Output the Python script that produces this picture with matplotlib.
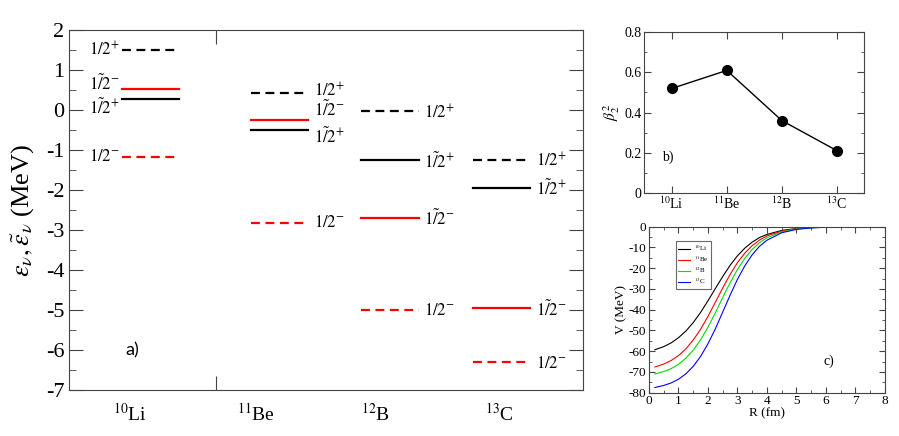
import numpy as np
import matplotlib
matplotlib.use('Agg')
import matplotlib.pyplot as plt
from matplotlib.ticker import MultipleLocator

plt.rcParams['font.family'] = 'serif'
plt.rcParams['font.serif'] = ['Liberation Serif', 'Times New Roman', 'DejaVu Serif']
plt.rcParams['mathtext.fontset'] = 'stix'
plt.rcParams['axes.unicode_minus'] = False

# Single-particle levels (MeV) for each nucleus
nuclei = [r'$^{10}$Li', r'$^{11}$Be', r'$^{12}$B', r'$^{13}$C']
bare_pos = [1.5, 0.42, -0.03, -1.25]      # 1/2+  (black dashed)
bare_neg = [-1.17, -2.83, -4.99, -6.31]   # 1/2-  (red dashed)
tilde_pos = [0.27, -0.5, -1.25, -1.94]    # ~1/2+ (black solid)
tilde_neg = [0.53, -0.25, -2.69, -4.96]   # ~1/2- (red solid)

# Deformation parameter
beta2 = [0.52, 0.61, 0.36, 0.21]

# Potential depth curves
r_fm = [0.2, 0.5, 0.75, 1.0, 1.25, 1.5, 1.75, 2.0, 2.25, 2.5, 2.75, 3.0, 3.25,
        3.5, 3.75, 4.0, 4.5, 5.0, 5.5, 6.0, 7.0, 8.0]
v_li = [-59.3, -57.8, -56.0, -53.5, -50.3, -46.2, -41.3, -35.7, -29.8, -24.0, -18.6,
        -14.0, -10.3, -7.4, -5.2, -3.7, -1.8, -0.9, -0.4, -0.2, -0.05, 0.0]
v_be = [-67.6, -66.2, -64.5, -62.1, -58.9, -54.6, -49.4, -43.2, -36.4, -29.5, -23.0,
        -17.3, -12.7, -9.1, -6.4, -4.4, -2.1, -0.95, -0.43, -0.19, -0.04, 0.0]
v_b = [-71.0, -69.8, -68.4, -66.3, -63.4, -59.5, -54.5, -48.4, -41.5, -34.1, -27.0,
       -20.6, -15.2, -10.9, -7.65, -5.3, -2.5, -1.1, -0.5, -0.23, -0.05, -0.01]
v_c = [-77.5, -76.5, -75.3, -73.5, -70.9, -67.3, -62.5, -56.4, -49.2, -41.1, -33.0,
       -25.3, -18.8, -13.5, -9.4, -6.5, -2.9, -1.3, -0.57, -0.25, -0.05, -0.01]

# layout of the level scheme
x_start = [0.36, 1.24, 1.99, 2.75]
line_len = 0.39
lab_pos = [0.415, 1.27, 2.09, 2.93]
FRAME = '#444444'

fig = plt.figure(figsize=(8.99, 4.36), dpi=100)

# ---- a) level scheme
ax = fig.add_axes([0.0768, 0.1055, 0.5717, 0.8257])
ax.set_xlim(0, 3.5)
ax.set_ylim(-7, 2)

styles = [
    (bare_pos, 'black', (0, (4, 2.5)), r'$1/2^{+}$'),
    (bare_neg, 'red', (0, (4, 2.5)), r'$1/2^{-}$'),
    (tilde_pos, 'black', '-', r'$1\tilde{/}2^{+}$'),
    (tilde_neg, 'red', '-', r'$1\tilde{/}2^{-}$'),
]
# label y-offsets per (style, nucleus)
offsets = [
    [0.0, 0.05, -0.05, -0.03],
    [0.0, 0.0, -0.03, -0.03],
    [-0.22, -0.17, -0.05, -0.03],
    [0.12, 0.25, -0.03, -0.03],
]
for (vals, col, ls, lab), offs in zip(styles, offsets):
    for i, v in enumerate(vals):
        x0 = x_start[i]
        ax.plot([x0, x0 + line_len], [v, v], color=col, ls=ls, lw=1.6)
        if i == 0:
            ax.text(x0 - 0.015, v + offs[i], lab, ha='right', va='center', fontsize=12)
        else:
            ax.text(x0 + line_len + 0.04, v + offs[i], lab, ha='left', va='center',
                    fontsize=12)

for xp, name in zip(lab_pos, nuclei):
    ax.text(xp, -0.065, name, transform=ax.get_xaxis_transform(), ha='center',
            va='center', fontsize=14)

ax.text(0.43, -6.0, 'a)', fontsize=13, family='Lato', ha='center', va='center')

ax.set_xticks([1])
ax.set_xticklabels([])
ax.yaxis.set_major_locator(MultipleLocator(1))
ax.yaxis.set_minor_locator(MultipleLocator(0.5))
ax.tick_params(which='both', direction='in', left=True, right=True, top=True,
               bottom=True, labelsize=16, color=FRAME)
ax.tick_params(which='major', length=10)
ax.tick_params(which='minor', length=5)
ax.set_ylabel(r'$\varepsilon_{\nu},\tilde{\varepsilon}_{\nu}$ (MeV)', fontsize=19,
              labelpad=6)
for s in ax.spines.values():
    s.set_color(FRAME)

# ---- b) beta2
axb = fig.add_axes([0.7167, 0.558, 0.2447, 0.3679])
idx = np.arange(1, len(beta2) + 1)
axb.plot(idx, beta2, color='black', lw=1.0, marker='o', ms=7)
axb.set_xlim(0.5, 4.5)
axb.set_ylim(0, 0.8)
axb.set_xticks(idx)
axb.set_xticklabels(nuclei)
axb.yaxis.set_minor_locator(MultipleLocator(0.1))
axb.set_yticks([0, 0.2, 0.4, 0.6, 0.8])
axb.set_yticklabels(['0', '0.2', '0.4', '0.6', '0.8'])
axb.tick_params(which='both', direction='in', left=True, right=True, top=True,
                bottom=True, labelsize=10, color=FRAME, pad=2)
axb.tick_params(which='major', length=5)
axb.tick_params(which='minor', length=2.5)
axb.set_ylabel(r'$\beta^{2}_{2}$', fontsize=11, labelpad=2)
axb.text(0.93, 0.178, 'b)', fontsize=10, ha='center', va='center')
for s in axb.spines.values():
    s.set_color(FRAME)

# ---- c) potentials
axc = fig.add_axes([0.7219, 0.0993, 0.2625, 0.3807])
curves = [(v_li, 'black', r'$^{10}$Li'), (v_be, 'red', r'$^{11}$Be'),
          (v_b, '#00dd00', r'$^{12}$B'), (v_c, 'blue', r'$^{13}$C')]
for vals, col, lab in curves:
    axc.plot(r_fm, vals, color=col, lw=0.8, label=lab)
axc.set_xlim(0, 8)
axc.set_ylim(-80, 0)
axc.xaxis.set_major_locator(MultipleLocator(1))
axc.xaxis.set_minor_locator(MultipleLocator(0.5))
axc.yaxis.set_major_locator(MultipleLocator(10))
axc.yaxis.set_minor_locator(MultipleLocator(5))
axc.tick_params(which='both', direction='in', left=True, right=True, top=True,
                bottom=True, labelsize=9.5, color=FRAME, pad=2)
axc.tick_params(which='major', length=4)
axc.tick_params(which='minor', length=2)
axc.set_xlabel('R (fm)', fontsize=9.5, labelpad=0)
axc.set_ylabel('V (MeV)', fontsize=9.5, labelpad=1)
axc.text(6.1, -65, 'c)', fontsize=10, ha='center', va='center')
leg = axc.legend(loc='upper left', bbox_to_anchor=(0.1, 0.935), fontsize=5,
                 frameon=True, fancybox=False, edgecolor=FRAME, handlelength=1.7,
                 borderpad=0.35, labelspacing=0.15, handletextpad=0.5)
leg.get_frame().set_linewidth(0.8)
for s in axc.spines.values():
    s.set_color(FRAME)

fig.savefig('out.png', dpi=100)
